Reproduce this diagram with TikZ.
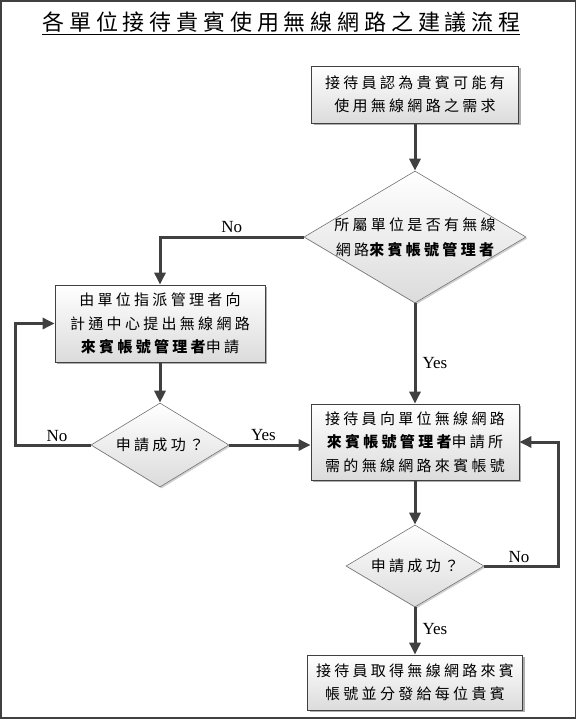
\documentclass[tikz,border=0pt]{standalone}
\usepackage{fontspec}
\setmainfont{Liberation Serif}
\newfontfamily\cjk[LetterSpace=22]{Noto Sans CJK TC}
\newfontfamily\cjktitle[LetterSpace=22]{Noto Sans CJK TC}
\usetikzlibrary{shapes.geometric,arrows.meta,shadows,calc}
\definecolor{linec}{HTML}{404040}
\tikzset{
  box/.style={draw=linec, line width=0.8pt, top color=white, bottom color=black!14,
    drop shadow={shadow xshift=2pt, shadow yshift=-2pt, fill=black!45, opacity=0.7},
    inner sep=0pt, align=center, font=\cjk\fontsize{15}{23.5}\selectfont},
  decision/.style={diamond, draw=black!55, line width=0.6pt, top color=white, bottom color=black!14,
    drop shadow={shadow xshift=1.5pt, shadow yshift=-1.5pt, fill=black!30, opacity=0.6},
    inner sep=0pt},
  dtext/.style={inner sep=0pt, align=center, font=\cjk\fontsize{15}{25}\selectfont},
  conn/.style={draw=linec, line width=3pt, -{Triangle[length=12pt,width=11pt]}},
  lbl/.style={font=\fontsize{17}{18}\selectfont, inner sep=1pt}
}
\begin{document}
\begin{tikzpicture}[x=1pt,y=-1pt]
\useasboundingbox (0,0) rectangle (577,720);
\draw[line width=1.6pt, linec] (1,1) rectangle (575.5,718);
\node[inner sep=0pt, font=\cjktitle\fontsize{22}{24}\selectfont] (title) at (281.5,22) {各單位接待貴賓使用無線網路之建議流程};
\draw[line width=1.4pt] (42,34.5) -- (520,34.5);

\node[box, minimum width=207pt, minimum height=57pt] (b1) at (415,94.5) {接待員認為貴賓可能有\\使用無線網路之需求};
\node[decision, minimum width=222pt, minimum height=132pt] (d1) at (415,237) {};
\node[dtext] (d1t) at (d1) {所屬單位是否有無線\\網路{\bfseries 來賓帳號管理者}};
\node[box, minimum width=210pt, minimum height=77pt] (b2) at (160,323.5) {由單位指派管理者向\\計通中心提出無線網路\\{\bfseries 來賓帳號管理者}申請};
\node[decision, minimum width=138pt, minimum height=84pt] (d2) at (160,445) {};
\node[dtext] (d2t) at (d2) {申請成功？};
\node[box, minimum width=208pt, minimum height=76pt] (b3) at (415,442) {接待員向單位無線網路\\{\bfseries 來賓帳號管理者}申請所\\需的無線網路來賓帳號};
\node[decision, minimum width=138pt, minimum height=82pt] (d3) at (415,566) {};
\node[dtext] (d3t) at (d3) {申請成功？};
\node[box, minimum width=215pt, minimum height=55pt] (b4) at (415,682.5) {接待員取得無線網路來賓\\帳號並分發給每位貴賓};

\draw[conn] (b1) -- (d1.north);
\draw[conn] (d1.west) -| (b2.north) node[lbl, pos=0.25, above=2pt] (l1) {No};
\draw[conn] (d1.south) -- (b3.north) node[lbl, pos=0.6, right=5pt] (l2) {Yes};
\draw[conn] (b2) -- (d2.north);
\draw[conn] (d2.west) -- ++(-75,0) coordinate (c1) |- (b2.west);
\node[lbl, above=2pt] (l3) at ($(d2.west)!0.45!(c1)$) {No};
\draw[conn] (d2.east) -- (d2.east -| b3.west) node[lbl, pos=0.42, above=2pt] (l4) {Yes};
\draw[conn] (b3) -- (d3.north);
\draw[conn] (d3.east) -- ++(74,0) coordinate (c2) |- (b3.east);
\node[lbl, above=2pt] (l5) at ($(d3.east)!0.47!(c2)$) {No};
\draw[conn] (d3.south) -- (b4.north) node[lbl, pos=0.45, right=5pt] (l6) {Yes};
\end{tikzpicture}
\end{document}
